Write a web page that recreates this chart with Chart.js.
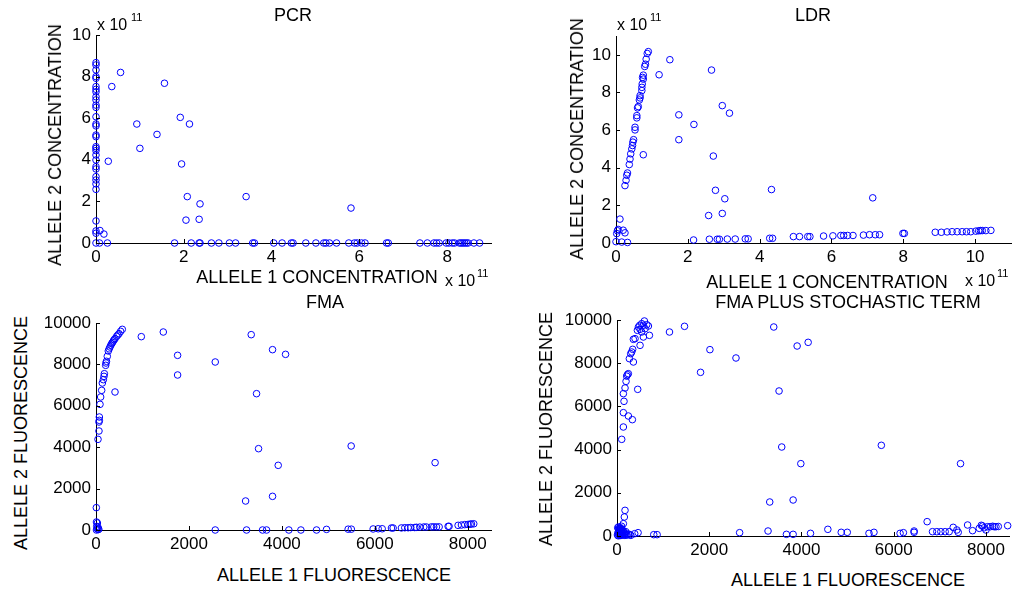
<!DOCTYPE html>
<html>
<head>
<meta charset="utf-8">
<script src="https://cdn.jsdelivr.net/npm/chart.js@4.4.1/dist/chart.umd.min.js"></script>
<style>
  body { margin: 0; background: #fff; width: 1014px; height: 594px; position: relative; overflow: hidden;
         font-family: "Liberation Sans", Arial, sans-serif; color: #000; }
  canvas { position: absolute; }
  .lbl { position: absolute; font-size: 18px; line-height: 1; white-space: nowrap; transform: translate(-50%, -50%); z-index: 2; }
  .rot { transform: translate(-50%, -50%) rotate(-90deg); }
  .exp { position: absolute; font-size: 16px; line-height: 1; white-space: nowrap; z-index: 2; }
  .sup { position: absolute; font-size: 11px; line-height: 1; white-space: nowrap; z-index: 2; }
</style>
</head>
<body>
<canvas id="pcr"></canvas>
<canvas id="ldr"></canvas>
<canvas id="fma"></canvas>
<canvas id="sto"></canvas>

<!-- titles and axis labels -->
<div class="lbl" style="left:293px;top:15px">PCR</div>
<div class="lbl rot" style="left:55px;top:145px">ALLELE 2 CONCENTRATION</div>
<div class="lbl" style="left:317px;top:277px">ALLELE 1 CONCENTRATION</div>
<div class="exp" style="left:97px;top:17px">x 10</div><div class="sup" style="left:131px;top:12px">11</div>
<div class="exp" style="left:445px;top:273px">x 10</div><div class="sup" style="left:477px;top:268px">11</div>

<div class="lbl" style="left:813px;top:15px">LDR</div>
<div class="lbl rot" style="left:577px;top:139px">ALLELE 2 CONCENTRATION</div>
<div class="lbl" style="left:827px;top:282px">ALLELE 1 CONCENTRATION</div>
<div class="exp" style="left:617px;top:17px">x 10</div><div class="sup" style="left:650px;top:12px">11</div>
<div class="exp" style="left:965px;top:273px">x 10</div><div class="sup" style="left:997px;top:268px">11</div>

<div class="lbl" style="left:325px;top:302px">FMA</div>
<div class="lbl rot" style="left:21px;top:433px">ALLELE 2 FLUORESCENCE</div>
<div class="lbl" style="left:334px;top:575px">ALLELE 1 FLUORESCENCE</div>

<div class="lbl" style="left:848px;top:302px">FMA PLUS STOCHASTIC TERM</div>
<div class="lbl rot" style="left:546px;top:429px">ALLELE 2 FLUORESCENCE</div>
<div class="lbl" style="left:848px;top:580px">ALLELE 1 FLUORESCENCE</div>

<script>
// tick labels
const concXTicks = [0, 2, 4, 6, 8];
const ldrXTicks = [0, 2, 4, 6, 8, 10];
const concYTicks = [0, 2, 4, 6, 8, 10];
const fluoXTicks = [0, 2000, 4000, 6000, 8000];
const fluoYTicks = [0, 2000, 4000, 6000, 8000, 10000];

// PCR (units of 1e11)
const pcrX = [
  0, 0, 0, 0, 0, 0, 0, 0, 0, 0, 0, 0, 0, 0, 0, 0, 0, 0, 0, 0, 0, 0, 0, 0, 0, 0, 0, 0, 0, 0, 0, 0,
  0.09, 0.18, 0.28, 0.36, 0.56, 0.93, 1.0, 1.39, 1.56, 1.92, 2.13, 1.95, 2.08, 2.37, 2.05, 2.35, 3.42, 5.81,
  0.08, 0.26, 1.79, 2.17, 2.35, 2.37, 2.63, 2.80, 3.04, 3.18, 3.57, 3.61, 4.05, 4.24, 4.45, 4.49, 4.78,
  5.01, 5.19, 5.24, 5.32, 5.48, 5.76, 5.89, 5.95, 6.05, 6.13, 6.62, 6.66, 7.38, 7.55, 7.70, 7.76, 7.82,
  7.98, 8.04, 8.12, 8.17, 8.28, 8.32, 8.36, 8.40, 8.44, 8.48, 8.61, 8.74
];
const pcrY = [
  8.67, 8.56, 8.32, 8.0, 7.92, 7.52, 7.39, 7.27, 7.03, 6.88, 6.63, 6.52, 6.07, 5.72, 5.63, 5.19, 5.11,
  4.63, 4.55, 4.44, 4.23, 3.99, 3.67, 3.56, 3.19, 3.03, 2.84, 2.58, 1.06, 0.58, 0.47, 0,
  0.6, 0.43, 3.93, 7.52, 8.2, 5.72, 4.55, 5.22, 7.68, 6.04, 5.72, 3.8, 2.23, 1.88, 1.1, 1.14, 2.23, 1.68,
  0, 0, 0, 0, 0, 0, 0, 0, 0, 0, 0, 0, 0, 0, 0, 0, 0,
  0, 0, 0, 0, 0, 0, 0, 0, 0, 0, 0, 0, 0, 0, 0, 0, 0,
  0, 0, 0, 0, 0, 0, 0, 0, 0, 0, 0, 0
];

// LDR (units of 1e11)
const ldrX = [
  0.90, 0.87, 0.84, 0.82, 0.80, 0.76, 0.74, 0.76, 0.73, 0.72, 0.72, 0.67, 0.67, 0.65, 0.62, 0.60,
  0.58, 0.58, 0.53, 0.53, 0.49, 0.47, 0.46, 0.44, 0.41, 0.39, 0.37, 0.32, 0.30, 0.28, 0.25, 0.76,
  1.5, 1.2, 1.75, 1.75, 2.66, 2.96, 3.16, 2.17, 2.71, 2.77, 3.03, 2.58, 2.96, 4.33, 7.15,
  0.11, 0.04, 0.06, 0.2, 0.25, 0.02, 0.0, 0.16, 0.32,
  2.16, 2.6, 2.82, 2.88, 3.1, 3.32, 3.6, 3.68, 4.28, 4.36, 4.94, 5.11, 5.34, 5.4, 5.78, 6.04, 6.26,
  6.34, 6.45, 6.6, 6.89, 7.06, 7.22, 7.34, 7.99, 8.03, 8.89, 9.06, 9.22, 9.36, 9.5, 9.64, 9.76,
  9.88, 10.02, 10.1, 10.15, 10.2, 10.3, 10.44
];
const ldrY = [
  10.17, 10.07, 9.77, 9.5, 9.38, 8.92, 8.8, 8.71, 8.45, 8.27, 8.1, 7.83, 7.71, 7.6, 7.25, 7.18,
  6.77, 6.65, 6.15, 6.01, 5.49, 5.36, 5.18, 5.0, 4.74, 4.46, 4.17, 3.72, 3.6, 3.33, 3.05, 4.69,
  9.74, 8.94, 6.81, 5.49, 9.19, 7.3, 6.9, 6.3, 4.62, 2.8, 2.35, 1.46, 1.57, 2.84, 2.4,
  1.27, 0.65, 0.72, 0.68, 0.54, 0.5, 0.07, 0.05, 0.03,
  0.16, 0.2, 0.2, 0.2, 0.21, 0.21, 0.22, 0.22, 0.25, 0.25, 0.34, 0.34, 0.34, 0.34, 0.37, 0.38, 0.4,
  0.4, 0.4, 0.4, 0.42, 0.44, 0.44, 0.44, 0.51, 0.51, 0.57, 0.57, 0.59, 0.6, 0.6, 0.6, 0.6,
  0.6, 0.63, 0.65, 0.66, 0.66, 0.66, 0.67
];

// FMA
const fmaX = [
  566, 530, 495, 470, 445, 409, 390, 373, 355, 337, 320, 301, 283, 265, 243, 225, 215, 208, 180, 172,
  158, 136, 122, 100, 86, 72, 72, 64, 64, 43, 409, 7,
  10, 30, 15, 40, 50, 10, 25, 60,
  975, 1448, 1756, 1756, 2566, 3340, 3799, 4079, 3455, 3498, 3921, 5491, 7297, 3219, 3799,
  2566, 3240, 3584, 3670, 4150, 4409, 4746, 4961, 5426, 5494, 5964, 6072, 6158, 6358, 6394, 6573,
  6645, 6717, 6774, 6860, 6896, 6968, 7054, 7111, 7219, 7269, 7326, 7384, 7577, 7598, 7792, 7864,
  7935, 8007, 8050, 8079, 8129
];
const fmaY = [
  9694, 9597, 9485, 9420, 9356, 9243, 9190, 9130, 9060, 9002, 8930, 8841, 8750, 8647, 8390, 8150, 8068, 7955, 7550, 7423,
  7262, 7101, 6747, 6425, 6071, 5459, 5298, 5217, 4783, 4380, 6667, 1079,
  386, 338, 177, 145, 20, 0, 60, 40,
  9340, 9565, 8438, 7488, 8116, 9436, 8712, 8486, 6586, 3929, 3124, 4058, 3253, 1401, 1626,
  0, 0, 0, 0, 0, 0, 0, 30, 40, 40, 50, 60, 60, 97, 97, 100,
  110, 110, 120, 120, 130, 140, 145, 145, 150, 150, 150, 150, 177, 177, 225, 240,
  260, 270, 280, 290, 300
];

// FMA plus stochastic term
const stoX = [
  594, 536, 493, 464, 442, 500, 572, 645, 681, 609, 536, 572, 500, 703, 391, 355, 340, 297, 319, 355,
  268, 225, 246, 210, 196, 174, 138, 152, 138, 246, 333, 138, 102, 449, 1138, 1464,
  174, 159, 138, 100,
  10, 20, 30, 40, 50, 60, 70, 80, 90, 100, 110, 120, 130, 140, 150, 160, 180, 200, 220, 250, 280, 300,
  15, 35, 55, 75, 95, 45, 65, 25, 85, 105, 125, 170, 190, 384, 457, 797, 870,
  2015, 2580, 1812, 3399, 3906, 4145, 3514, 3572, 3986, 5732, 7449, 3312, 3819, 6725,
  2659, 3275, 3674, 3819, 4196, 4572, 4862, 4993, 5464, 5572, 6138, 6210, 6442, 6442, 6841, 6935,
  7022, 7116, 7203, 7290, 7370, 7399, 7602, 7710, 7855, 7928, 8000, 7960, 8036, 8094, 8145, 8181,
  8217, 8268, 8471, 7900
];
const stoY = [
  9954, 9830, 9753, 9676, 9522, 9568, 9753, 9784, 9722, 9599, 9444, 9213, 8827, 9290, 9136, 9105, 8642, 8441, 8518, 8056,
  8210, 7469, 7515, 7400, 7160, 6852, 6589, 6235, 5710, 5556, 5386, 5046, 4475, 6790, 9444, 9707,
  1188, 880, 571, 450,
  50, 120, 200, 300, 350, 250, 150, 80, 30, 200, 300, 100, 50, 220, 150, 60, 120, 80, 40, 90, 60, 30,
  380, 420, 320, 380, 270, 60, 20, 10, 340, 120, 260, 30, 200, 108, 154, 62, 62,
  8627, 8241, 7577, 9676, 8796, 8966, 6713, 4120, 3349, 4198, 3349, 1574, 1667, 664,
  154, 231, 77, 77, 123, 309, 170, 170, 123, 170, 123, 154, 231, 170, 200, 200,
  200, 200, 200, 401, 278, 170, 509, 247, 355, 463, 278, 380, 430, 430, 450, 430,
  430, 440, 478, 494
];

Chart.defaults.font.family = '"Liberation Sans", Arial, sans-serif';
Chart.defaults.font.size = 17;
Chart.defaults.color = '#000';

// MATLAB style ticks pointing into the plot
const inwardTicks = {
  id: 'inwardTicks',
  afterDraw(chart) {
    const { ctx, chartArea: a } = chart;
    const x = chart.scales.x, y = chart.scales.y;
    ctx.save();
    ctx.strokeStyle = '#000';
    ctx.lineWidth = 1;
    ctx.beginPath();
    x.ticks.forEach((t) => {
      const px = Math.round(x.getPixelForValue(t.value)) + 0.5;
      ctx.moveTo(px, a.bottom);
      ctx.lineTo(px, a.bottom - 4);
    });
    y.ticks.forEach((t) => {
      const py = Math.round(y.getPixelForValue(t.value)) + 0.5;
      ctx.moveTo(a.left, py);
      ctx.lineTo(a.left + 4, py);
    });
    ctx.stroke();
    ctx.restore();
  },
};

const PL = 60, PR = 20, PT = 16, PB = 30;

function makePanel(id, area, xs, ys, xMax, yMax, xTicks, yTicks) {
  const cv = document.getElementById(id);
  const w = area.right - area.left + PL + PR;
  const h = area.bottom - area.top + PT + PB;
  cv.width = w;
  cv.height = h;
  cv.style.left = area.left - PL + 'px';
  cv.style.top = area.top - PT + 'px';
  cv.style.width = w + 'px';
  cv.style.height = h + 'px';

  return new Chart(cv.getContext('2d'), {
    type: 'scatter',
    data: {
      datasets: [
        {
          data: xs.map((v, i) => ({ x: v, y: ys[i] })),
          pointStyle: 'circle',
          pointRadius: 3.3,
          pointBorderWidth: 1,
          pointBorderColor: '#0000ff',
          pointBackgroundColor: 'rgba(0,0,0,0)',
          showLine: false,
          clip: false,
        },
      ],
    },
    options: {
      responsive: false,
      animation: false,
      devicePixelRatio: 1,
      layout: { padding: { top: PT, right: PR, left: 0, bottom: 0 } },
      plugins: { legend: { display: false }, tooltip: { enabled: false } },
      scales: {
        x: {
          type: 'linear',
          min: 0,
          max: xMax,
          grid: { display: false, drawTicks: false },
          border: { display: true, color: '#000', width: 1 },
          ticks: { padding: 4, maxRotation: 0, callback: (v) => String(v) },
          afterBuildTicks: (s) => { s.ticks = xTicks.map((v) => ({ value: v })); },
          afterFit: (s) => { s.height = PB; },
        },
        y: {
          type: 'linear',
          min: 0,
          max: yMax,
          grid: { display: false, drawTicks: false },
          border: { display: true, color: '#000', width: 1 },
          ticks: { padding: 5, callback: (v) => String(v) },
          afterBuildTicks: (s) => { s.ticks = yTicks.map((v) => ({ value: v })); },
          afterFit: (s) => { s.width = PL; },
        },
      },
    },
    plugins: [inwardTicks],
  });
}

makePanel('pcr', { left: 96, right: 491, top: 35, bottom: 243 }, pcrX, pcrY, 9, 10, concXTicks, concYTicks);
makePanel('ldr', { left: 616, right: 1011, top: 36, bottom: 243 }, ldrX, ldrY, 11, 11, ldrXTicks, concYTicks);
makePanel('fma', { left: 96, right: 491, top: 323, bottom: 530 }, fmaX, fmaY, 8500, 10000, fluoXTicks, fluoYTicks);
makePanel('sto', { left: 617, right: 1009, top: 320, bottom: 536 }, stoX, stoY, 8500, 10000, fluoXTicks, fluoYTicks);
</script>
</body>
</html>
